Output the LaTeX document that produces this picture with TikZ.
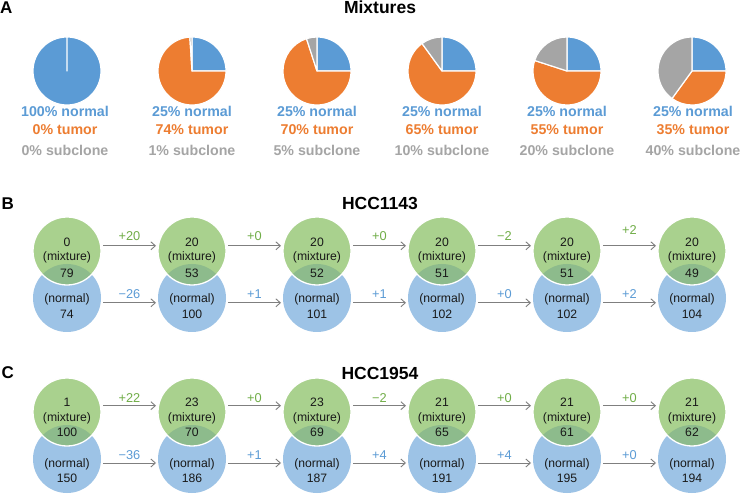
\documentclass[tikz,border=0pt]{standalone}
\usepackage{fontspec}
\setmainfont{Liberation Sans}
\usetikzlibrary{arrows.meta}
\definecolor{pblue}{HTML}{5B9BD5}
\definecolor{porange}{HTML}{ED7D31}
\definecolor{pgray}{HTML}{A5A5A5}
\definecolor{cgreen}{HTML}{A9D18E}
\definecolor{cblue}{HTML}{9DC3E6}
\definecolor{cover}{HTML}{8DBB8C}
\definecolor{lgreen}{HTML}{70AD47}
\definecolor{lblue}{HTML}{5B9BD5}
\definecolor{arrgray}{HTML}{7F7F7F}

\newcommand{\vpair}[7]{%
  \node[circ, fill=cblue] (b#1) at (#2,#4) {};
  \node[circ, fill=cgreen] (g#1) at (#2,#3) {};
  \begin{scope}
    \clip (#2,#4) circle[radius=34];
    \fill[cover] (#2,#3) circle[radius=34];
  \end{scope}
  \draw[white, line width=1.3pt] (#2,#3) circle[radius=34];
  \node[ctext] (t#1a) at (#2,\rA) {#5};
  \node[ctext] (t#1b) at (#2,\rB) {(mixture)};
  \node[ctext] (t#1c) at (#2,\rC) {#6};
  \node[ctext] (t#1d) at (#2,\rD) {(normal)};
  \node[ctext] (t#1e) at (#2,\rE) {#7};
}
% #1 from, #2 to, #3 label x, #4 top label, #5 bottom label
\newcommand{\varr}[5]{%
  \draw[conn] ([shift={(2pt,\sA)}]g#1.east) -- ([shift={(-2pt,\sA)}]g#2.west);
  \draw[conn] ([shift={(2pt,\sB)}]b#1.east) -- ([shift={(-2pt,\sB)}]b#2.west);
  \node[alab, text=lgreen] (l#1t) at (#3,\lA) {#4};
  \node[alab, text=lblue] (l#1b) at (#3,\lB) {#5};
}

\begin{document}
\begin{tikzpicture}[x=1pt,y=-1pt,
  title/.style={font=\fontsize{17.5}{20}\selectfont\bfseries, anchor=base, inner sep=0},
  panel/.style={font=\fontsize{17}{20}\selectfont\bfseries, anchor=base west, inner sep=0},
  pielab/.style={font=\fontsize{14.2}{17}\selectfont\bfseries, anchor=base, inner sep=0},
  ctext/.style={font=\fontsize{12.2}{14}\selectfont, anchor=base, inner sep=0, text=black!90},
  alab/.style={font=\fontsize{12.8}{15}\selectfont, anchor=base, inner sep=0},
  conn/.style={draw=arrgray, line width=0.9pt, -{Straight Barb[length=4.5pt,width=8pt]}},
  slice/.style={draw=white, line width=1.2pt, line join=round},
  circ/.style={circle, minimum size=68pt, inner sep=0, outer sep=0},
]
\fill[white] (0,0) rectangle (742,494);
\useasboundingbox (0,0) rectangle (742,494);

% ---------- Panel A ----------
\node[panel] (pA) at (0,14) {A};
\node[title] (tMix) at (380,14) {Mixtures};

% pie 1
\filldraw[slice, fill=pblue] (67,71) -- ++(-90:34) arc[start angle=-90, end angle=270, radius=34] -- cycle;
% pie 2
\filldraw[slice, fill=pblue] (192,71) -- ++(-90:34) arc[start angle=-90, end angle=0, radius=34] -- cycle;
\filldraw[slice, fill=porange] (192,71) -- ++(0:34) arc[start angle=0, end angle=266.4, radius=34] -- cycle;
\filldraw[slice, fill=pgray] (192,71) -- ++(266.4:34) arc[start angle=266.4, end angle=270, radius=34] -- cycle;
% pie 3
\filldraw[slice, fill=pblue] (317,71) -- ++(-90:34) arc[start angle=-90, end angle=0, radius=34] -- cycle;
\filldraw[slice, fill=porange] (317,71) -- ++(0:34) arc[start angle=0, end angle=252, radius=34] -- cycle;
\filldraw[slice, fill=pgray] (317,71) -- ++(252:34) arc[start angle=252, end angle=270, radius=34] -- cycle;
% pie 4
\filldraw[slice, fill=pblue] (442,71) -- ++(-90:34) arc[start angle=-90, end angle=0, radius=34] -- cycle;
\filldraw[slice, fill=porange] (442,71) -- ++(0:34) arc[start angle=0, end angle=234, radius=34] -- cycle;
\filldraw[slice, fill=pgray] (442,71) -- ++(234:34) arc[start angle=234, end angle=270, radius=34] -- cycle;
% pie 5
\filldraw[slice, fill=pblue] (567,71) -- ++(-90:34) arc[start angle=-90, end angle=0, radius=34] -- cycle;
\filldraw[slice, fill=porange] (567,71) -- ++(0:34) arc[start angle=0, end angle=198, radius=34] -- cycle;
\filldraw[slice, fill=pgray] (567,71) -- ++(198:34) arc[start angle=198, end angle=270, radius=34] -- cycle;
% pie 6
\filldraw[slice, fill=pblue] (692,71) -- ++(-90:34) arc[start angle=-90, end angle=0, radius=34] -- cycle;
\filldraw[slice, fill=porange] (692,71) -- ++(0:34) arc[start angle=0, end angle=126, radius=34] -- cycle;
\filldraw[slice, fill=pgray] (692,71) -- ++(126:34) arc[start angle=126, end angle=270, radius=34] -- cycle;

% pie labels
\foreach \x/\n/\t/\s [count=\i] in {65/100/0/0, 192/25/74/1, 317/25/70/5, 442/25/65/10, 567/25/55/20, 693/25/35/40}{
  \node[pielab, text=pblue] (pn\i) at (\x,116.7) {\n\% normal};
  \node[pielab, text=porange] (pt\i) at (\x,134.7) {\t\% tumor};
  \node[pielab, text=pgray] (ps\i) at (\x,156) {\s\% subclone};
}

% ---------- Panel B ----------
\node[panel] (pB) at (1.5,209.5) {B};
\node[title] (tB) at (380,209.5) {HCC1143};
\def\rA{246.6}\def\rB{261}\def\rC{277.4}\def\rD{303}\def\rE{318.5}
\vpair{B1}{67}{251}{298}{0}{79}{74}
\vpair{B2}{192}{251}{298}{20}{53}{100}
\vpair{B3}{317}{251}{298}{20}{52}{101}
\vpair{B4}{442}{251}{298}{20}{51}{102}
\vpair{B5}{567}{251}{298}{20}{51}{102}
\vpair{B6}{692}{251}{298}{20}{49}{104}
\def\sA{5.2pt}\def\sB{-4.8pt}\def\lA{241}\def\lB{299}
\varr{B1}{B2}{129.5}{+20}{−26}
\varr{B2}{B3}{254.5}{+0}{+1}
\varr{B3}{B4}{379.5}{+0}{+1}
\varr{B4}{B5}{504.5}{−2}{+0}
\def\lA{235}
\varr{B5}{B6}{629.5}{+2}{+2}

% ---------- Panel C ----------
\node[panel] (pC) at (1.5,379) {C};
\node[title] (tC) at (380,379.5) {HCC1954};
\def\rA{406.6}\def\rB{421}\def\rC{436}\def\rD{467.5}\def\rE{482}
\vpair{C1}{67}{412}{459}{1}{100}{150}
\vpair{C2}{192}{412}{459}{23}{70}{186}
\vpair{C3}{317}{412}{459}{23}{69}{187}
\vpair{C4}{442}{412}{459}{21}{65}{191}
\vpair{C5}{567}{412}{459}{21}{61}{195}
\vpair{C6}{692}{412}{459}{21}{62}{194}
\def\sA{6.3pt}\def\sB{-4pt}\def\lA{402.8}\def\lB{459}
\varr{C1}{C2}{129.5}{+22}{−36}
\varr{C2}{C3}{254.5}{+0}{+1}
\varr{C3}{C4}{379.5}{−2}{+4}
\varr{C4}{C5}{504.5}{+0}{+4}
\varr{C5}{C6}{629.5}{+0}{+0}
\end{tikzpicture}
\end{document}
